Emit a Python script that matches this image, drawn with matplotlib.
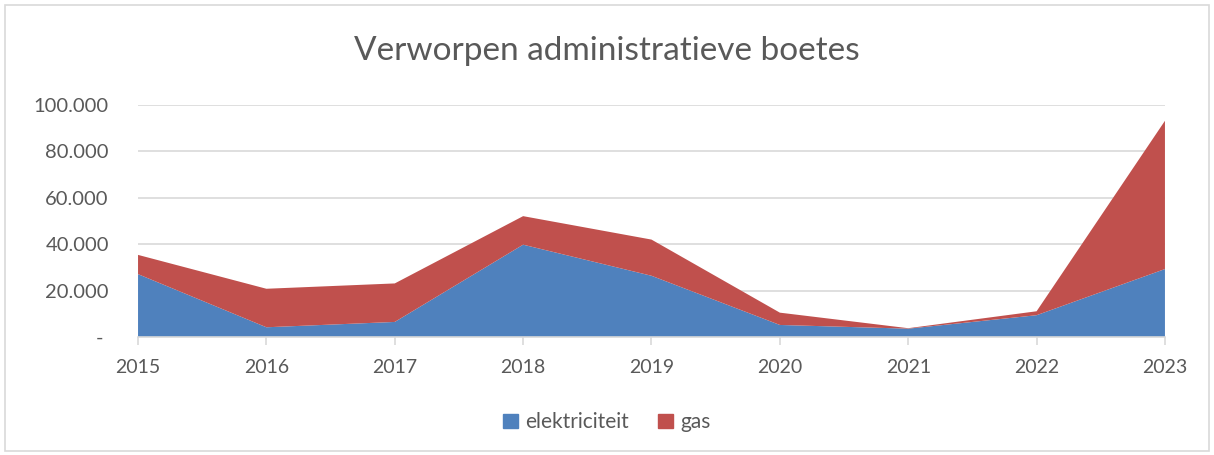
import matplotlib
matplotlib.use("Agg")
import matplotlib.pyplot as plt
from matplotlib.patches import Rectangle, Patch

years = ["2015", "2016", "2017", "2018", "2019", "2020", "2021", "2022", "2023"]
elektriciteit = [27100, 4200, 6500, 39800, 26400, 5200, 3600, 9400, 29300]
gas = [8300, 16600, 16600, 12300, 15600, 5300, 200, 1700, 63900]
yticks = [0, 20000, 40000, 60000, 80000, 100000]
ytick_labels = ["- ", "20.000", "40.000", "60.000", "80.000", "100.000"]

plt.rcParams['font.family'] = ['Lato', 'DejaVu Sans']
txt = "#595959"
blue = "#4F81BD"
red = "#C0504D"

fig = plt.figure(figsize=(12.14, 4.55), dpi=100)
fig.patches.append(Rectangle((0.004, 0.008), 0.992, 0.982, transform=fig.transFigure,
                             fill=False, edgecolor="#D9D9D9", linewidth=1.2))
ax = fig.add_axes([0.1137, 0.2593, 0.8459, 0.5099])
x = list(range(len(years)))
ax.stackplot(x, elektriciteit, gas, colors=[blue, red], labels=["elektriciteit", "gas"], zorder=3)
ax.set_xlim(0, len(years) - 1)
ax.set_ylim(0, 100000)
ax.set_yticks(yticks)
ax.set_yticklabels(ytick_labels)
ax.set_xticks(x)
ax.set_xticklabels(years)
ax.grid(axis='y', color="#D9D9D9", linewidth=1.2, zorder=0)
for s in ["top", "right", "left"]:
    ax.spines[s].set_visible(False)
ax.spines["bottom"].set_color("#D9D9D9")
ax.spines["bottom"].set_linewidth(1.2)
ax.spines["bottom"].set_zorder(4)
ax.tick_params(axis='y', length=0, labelsize=14.5, labelcolor=txt, pad=21)
ax.tick_params(axis='x', length=6, width=1.2, color="#D9D9D9", labelsize=14, labelcolor=txt, pad=10)
fig.text(0.5, 0.887, "Verworpen administratieve boetes", ha='center', va='center',
         fontsize=24, color=txt)
handles = [Patch(color=blue, label="elektriciteit"), Patch(color=red, label="gas")]
fig.legend(handles=handles, loc='center', bbox_to_anchor=(0.5, 0.072), ncol=2, frameon=False,
           fontsize=15, labelcolor=txt, handlelength=0.7, handleheight=0.7, columnspacing=1.4,
           handletextpad=0.35)
fig.savefig("out.png", dpi=100)
